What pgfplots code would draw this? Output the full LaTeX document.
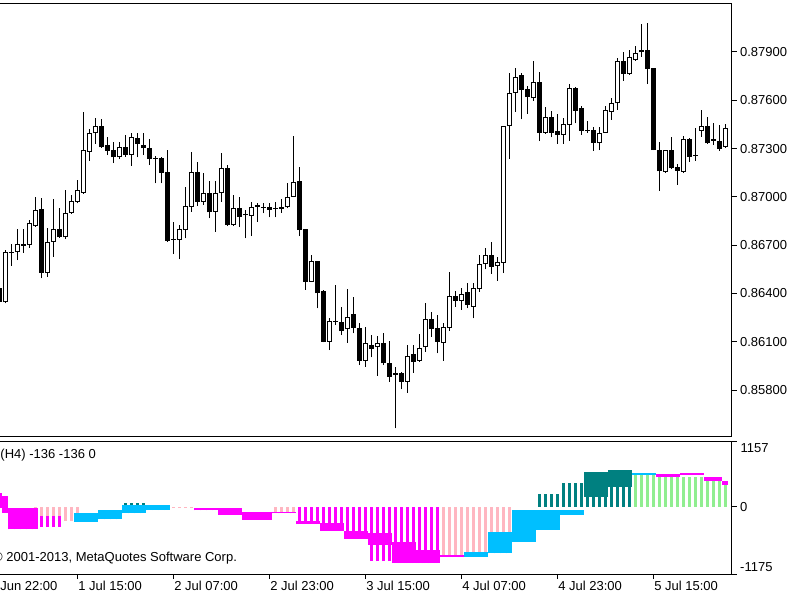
\documentclass[border=0pt]{standalone}
\usepackage{pgfplots}
\pgfplotsset{compat=1.18}
\usepackage{pgfplotstable}
\usepackage{fontspec}
\setmainfont{Liberation Sans}
\definecolor{mtpink}{RGB}{255,182,193}
\definecolor{mtmag}{RGB}{255,0,255}
\definecolor{mtblue}{RGB}{0,191,255}
\definecolor{mtteal}{RGB}{0,128,128}
\definecolor{mtgreen}{RGB}{144,238,144}
\pgfplotsset{
  seg/.style 2 args={forget plot, draw=none, mark=none, no markers,
    error bars/.cd, y dir=plus, y explicit, error mark=none,
    error bar style={line width=#1, draw=#2, solid, line cap=butt}},
}
\newcommand{\mtfont}{\fontsize{13bp}{15bp}\selectfont}

\pgfplotstableread{
k open high low close
-13 0.86432 0.86453 0.86279 0.86349
-12 0.86345 0.86670 0.86339 0.86660
-11 0.86653 0.86706 0.86573 0.86660
-10 0.86656 0.86799 0.86608 0.86706
-9 0.86697 0.86799 0.86653 0.86706
-8 0.86701 0.86857 0.86684 0.86836
-7 0.86819 0.87001 0.86815 0.86919
-6 0.86923 0.86995 0.86494 0.86529
-5 0.86526 0.86809 0.86504 0.86722
-4 0.86722 0.86987 0.86629 0.86799
-3 0.86799 0.86929 0.86745 0.86749
-2 0.86749 0.87043 0.86737 0.86898
-1 0.86902 0.87014 0.86894 0.86976
0 0.86970 0.87105 0.86960 0.87043
1 0.87026 0.87529 0.87018 0.87291
2 0.87281 0.87420 0.87223 0.87399
3 0.87395 0.87488 0.87329 0.87440
4 0.87442 0.87482 0.87305 0.87308
5 0.87322 0.87374 0.87260 0.87287
6 0.87291 0.87339 0.87209 0.87246
7 0.87246 0.87339 0.87234 0.87312
8 0.87312 0.87385 0.87250 0.87260
9 0.87260 0.87395 0.87194 0.87370
10 0.87364 0.87395 0.87246 0.87327
11 0.87322 0.87399 0.87260 0.87302
12 0.87306 0.87358 0.87198 0.87234
13 0.87242 0.87254 0.87084 0.87237
14 0.87243 0.87250 0.87084 0.87150
15 0.87157 0.87291 0.86722 0.86728
16 0.86740 0.86846 0.86645 0.86734
17 0.86732 0.86825 0.86612 0.86799
18 0.86794 0.87060 0.86743 0.86943
19 0.86939 0.87277 0.86908 0.87155
20 0.87155 0.87219 0.86943 0.86970
21 0.86970 0.87147 0.86950 0.87022
22 0.87022 0.87099 0.86867 0.86904
23 0.86908 0.87099 0.86784 0.87022
24 0.87022 0.87271 0.86970 0.87181
25 0.87181 0.87198 0.86819 0.86825
26 0.86825 0.87012 0.86819 0.86929
27 0.86929 0.87001 0.86815 0.86877
28 0.86891 0.86919 0.86743 0.86885
29 0.86881 0.86970 0.86757 0.86935
30 0.86947 0.86964 0.86846 0.86940
31 0.86939 0.86964 0.86898 0.86932
32 0.86939 0.86964 0.86873 0.86919
33 0.86932 0.86970 0.86873 0.86926
34 0.86927 0.86985 0.86902 0.86935
35 0.86935 0.87084 0.86929 0.87001
36 0.87001 0.87378 0.86998 0.87094
37 0.87099 0.87184 0.86757 0.86794
38 0.86799 0.86802 0.86422 0.86473
39 0.86473 0.86639 0.86470 0.86602
40 0.86602 0.86605 0.86308 0.86401
41 0.86417 0.86422 0.86097 0.86101
42 0.86101 0.86250 0.86049 0.86229
43 0.86228 0.86453 0.86204 0.86222
44 0.86225 0.86314 0.86142 0.86167
45 0.86178 0.86426 0.86094 0.86256
46 0.86271 0.86380 0.86153 0.86188
47 0.86184 0.86217 0.85956 0.85981
48 0.85981 0.86194 0.85945 0.86091
49 0.86080 0.86142 0.86003 0.86055
50 0.86068 0.86135 0.85888 0.86091
51 0.86091 0.86153 0.85956 0.85966
52 0.85966 0.86107 0.85852 0.85883
53 0.85903 0.85942 0.85563 0.85897
54 0.85904 0.85914 0.85805 0.85852
55 0.85852 0.86080 0.85784 0.86012
56 0.86024 0.86080 0.85908 0.85976
57 0.85983 0.86149 0.85976 0.86060
58 0.86066 0.86343 0.86039 0.86240
59 0.86240 0.86287 0.86132 0.86178
60 0.86184 0.86266 0.86029 0.86101
61 0.86094 0.86219 0.85983 0.86190
62 0.86184 0.86536 0.86169 0.86385
63 0.86386 0.86416 0.86318 0.86355
64 0.86355 0.86432 0.86298 0.86397
65 0.86408 0.86463 0.86308 0.86329
66 0.86318 0.86463 0.86246 0.86432
67 0.86426 0.86639 0.86411 0.86583
68 0.86583 0.86681 0.86550 0.86639
69 0.86639 0.86723 0.86523 0.86565
70 0.86573 0.86629 0.86478 0.86593
71 0.86591 0.87440 0.86526 0.87440
72 0.87440 0.87771 0.87234 0.87647
73 0.87647 0.87799 0.87529 0.87743
74 0.87757 0.87768 0.87482 0.87664
75 0.87668 0.87689 0.87515 0.87619
76 0.87612 0.87846 0.87598 0.87716
77 0.87716 0.87778 0.87347 0.87399
78 0.87399 0.87557 0.87391 0.87498
79 0.87498 0.87535 0.87370 0.87399
80 0.87411 0.87515 0.87329 0.87385
81 0.87385 0.87488 0.87329 0.87453
82 0.87447 0.87699 0.87349 0.87675
83 0.87678 0.87681 0.87457 0.87535
84 0.87550 0.87565 0.87385 0.87411
85 0.87414 0.87473 0.87399 0.87408
86 0.87416 0.87436 0.87287 0.87337
87 0.87333 0.87436 0.87291 0.87399
88 0.87399 0.87565 0.87396 0.87537
89 0.87529 0.87612 0.87478 0.87581
90 0.87581 0.87863 0.87540 0.87841
91 0.87841 0.87902 0.87720 0.87763
92 0.87763 0.87912 0.87757 0.87866
93 0.87850 0.87937 0.87846 0.87892
94 0.87912 0.88074 0.87871 0.87898
95 0.87912 0.88078 0.87701 0.87794
96 0.87799 0.87799 0.87291 0.87291
97 0.87291 0.87343 0.87037 0.87159
98 0.87157 0.87291 0.87147 0.87291
99 0.87291 0.87369 0.87173 0.87178
100 0.87188 0.87203 0.87074 0.87161
101 0.87157 0.87378 0.87147 0.87358
102 0.87358 0.87364 0.87217 0.87250
103 0.87259 0.87426 0.87223 0.87253
104 0.87412 0.87540 0.87374 0.87440
105 0.87440 0.87494 0.87329 0.87333
106 0.87362 0.87462 0.87322 0.87350
107 0.87349 0.87447 0.87287 0.87296
108 0.87312 0.87453 0.87305 0.87426
}\candles

\pgfplotstableread{
k lo hi
-7 -150 0
-6 -150 0
-5 -150 0
-4 -150 0
-3 -240 0
-2 -240 0
-1 -240 0
0 -240 0
13 -20 0
14 -20 0
15 -20 0
16 -20 0
17 -20 0
18 -20 0
19 -20 0
33 -100 0
34 -100 0
35 -100 0
36 -100 0
61 -859 0
62 -859 0
63 -859 0
64 -859 0
65 -800 0
66 -800 0
67 -800 0
68 -800 0
69 -450 0
70 -450 0
71 -450 0
72 -450 0
}\stripP

\pgfplotstableread{
k lo hi
-6 -351 -158
-5 -351 -158
-4 -351 -158
-3 -351 -158
37 -300 0
38 -300 0
39 -300 0
40 -300 0
41 -420 0
42 -420 0
43 -420 0
44 -420 0
45 -560 0
46 -560 0
47 -560 0
48 -560 0
49 -950 0
50 -950 0
51 -950 0
52 -950 0
53 -982 0
54 -982 0
55 -982 0
56 -982 0
57 -982 0
58 -982 0
59 -982 0
60 -982 0
}\stripM

\pgfplotstableread{
k lo hi
8 0 70
9 0 70
10 0 70
11 0 70
77 0 228
78 0 228
79 0 228
80 0 228
81 0 421
82 0 421
83 0 421
84 0 421
85 0 619
86 0 619
87 0 619
88 0 619
89 0 649
90 0 649
91 0 649
92 0 649
}\stripT

\pgfplotstableread{
k lo hi
93 0 560
94 0 560
95 0 560
96 0 560
97 0 530
98 0 530
99 0 530
100 0 530
101 0 530
102 0 530
103 0 530
104 0 530
105 0 530
106 0 530
107 0 500
108 0 450
}\stripG

\pgfplotstableread{
k lo hi
-13 -20 245
-12 -100 200
-11 -391 -23
-10 -391 -23
-9 -391 -23
-8 -391 -23
-7 -391 -23
20 -60 -10
21 -60 -10
22 -60 -15
23 -60 -15
24 -140 -23
25 -140 -23
26 -140 -23
27 -140 -23
28 -228 -82
29 -228 -82
30 -228 -82
31 -228 -82
32 -228 -82
33 -110 -90
34 -110 -90
35 -110 -90
36 -110 -90
37 -300 -240
38 -300 -240
39 -300 -240
40 -300 -240
41 -420 -280
42 -420 -280
43 -420 -280
44 -420 -280
45 -560 -420
46 -560 -420
47 -560 -420
48 -560 -420
49 -666 -456
50 -666 -456
51 -666 -456
52 -666 -456
53 -982 -614
54 -982 -614
55 -982 -614
56 -982 -614
57 -982 -754
58 -982 -754
59 -982 -754
60 -982 -754
61 -880 -840
62 -880 -840
63 -880 -840
64 -880 -840
97 530 580
98 530 580
99 530 580
100 530 580
101 560 600
102 560 600
103 560 600
104 560 600
105 460 520
106 460 520
107 460 520
108 390 460
}\bandM

\pgfplotstableread{
k lo hi
0 -257 -111
1 -257 -111
2 -257 -111
3 -257 -111
4 -216 -53
5 -216 -53
6 -216 -53
7 -216 -53
8 -111 35
9 -111 35
10 -111 35
11 -111 35
12 -53 35
13 -53 35
14 -53 35
15 -53 35
65 -871 -783
66 -871 -783
67 -871 -783
68 -871 -783
69 -812 -433
70 -812 -433
71 -812 -433
72 -812 -433
73 -608 -53
74 -608 -53
75 -608 -53
76 -608 -53
77 -403 -53
78 -403 -53
79 -403 -53
80 -403 -53
81 -140 -53
82 -140 -53
83 -140 -53
84 -140 -53
93 560 600
94 560 600
95 560 600
96 560 600
}\bandB

\pgfplotstableread{
k lo hi
85 180 619
86 180 619
87 180 619
88 180 619
89 356 649
90 356 649
91 356 649
92 356 649
}\bandT

\begin{document}
\begin{tikzpicture}
% ---------- price window ----------
\begin{axis}[name=main,
  at={(0bp,-436.5bp)}, anchor=south west,
  scale only axis, width=731.5bp, height=433bp,
  xmin=-12.883, xmax=109.033, ymin=0.85512, ymax=0.88201,
  axis line style={draw=none},
  xtick=\empty,
  ytick={0.858,0.861,0.864,0.867,0.870,0.873,0.876,0.879},
  ytick pos=right, yticklabel pos=right,
  scaled y ticks=false,
  tick align=outside, major tick length=5bp,
  tick style={black, line width=1bp},
  yticklabel style={font=\mtfont, anchor=west,
    /pgf/number format/.cd, fixed, fixed zerofill, precision=5, assume math mode=true},
]
\addplot[seg={1.2bp}{black}] table[x=k, y=low, y error expr=\thisrow{high}-\thisrow{low}] \candles;
\addplot[seg={5bp}{black}] table[x=k, y expr={min(\thisrow{open},\thisrow{close})},
  y error expr={max(abs(\thisrow{close}-\thisrow{open}),0.00007)}] \candles;
\addplot[seg={3bp}{white}] table[x=k, y expr={\thisrow{open}+0.0000621},
  y error expr={max(\thisrow{close}-\thisrow{open}-0.000124,0)}] \candles;
\end{axis}

% ---------- indicator window ----------
\begin{axis}[name=ind,
  at={(0bp,-574bp)}, anchor=south west,
  scale only axis, width=731.5bp, height=133bp,
  xmin=-12.883, xmax=109.033, ymin=-1175, ymax=1157,
  axis line style={draw=none},
  xtick={0,16,32,48,64,80,96},
  xticklabels={1 Jul 15:00, 2 Jul 07:00, 2 Jul 23:00, 3 Jul 15:00, 4 Jul 07:00, 4 Jul 23:00, 5 Jul 15:00},
  xtick pos=bottom, ytick pos=right, yticklabel pos=right,
  ytick={-1175,0,1157}, yticklabels={{},0,{}},
  tick align=outside, major tick length=5bp,
  tick style={black, line width=1bp},
  xticklabel style={font=\mtfont, anchor=north west, inner sep=0pt, xshift=0.8bp, yshift=-2bp},
  yticklabel style={font=\mtfont, anchor=west},
]
\addplot[seg={2.5bp}{mtpink}] table[x=k, y=lo, y error expr=\thisrow{hi}-\thisrow{lo}] \stripP;
\addplot[seg={2.5bp}{mtmag}] table[x=k, y=lo, y error expr=\thisrow{hi}-\thisrow{lo}] \stripM;
\addplot[seg={2.5bp}{mtteal}] table[x=k, y=lo, y error expr=\thisrow{hi}-\thisrow{lo}] \stripT;
\addplot[seg={2.5bp}{mtgreen}] table[x=k, y=lo, y error expr=\thisrow{hi}-\thisrow{lo}] \stripG;
\addplot[seg={6.1bp}{mtmag}] table[x=k, y=lo, y error expr=\thisrow{hi}-\thisrow{lo}] \bandM;
\addplot[seg={6.1bp}{mtblue}] table[x=k, y=lo, y error expr=\thisrow{hi}-\thisrow{lo}] \bandB;
\addplot[seg={6.1bp}{mtteal}] table[x=k, y=lo, y error expr=\thisrow{hi}-\thisrow{lo}] \bandT;
\end{axis}

\draw[black, line width=1.2bp] (main.south west) -- (main.south east) -- (main.north east) -- (main.north west);
\draw[black, line width=1bp] (ind.south west) -- (ind.south east) -- (ind.north east) -- (ind.north west);
\draw[black, line width=1bp] (-18.7bp,-574bp) -- (-18.7bp,-579bp);
\node[font=\mtfont, anchor=north west, inner sep=0pt] at (-17.9bp,-581bp) {30 Jun 22:00};
\node[font=\mtfont, anchor=north west, inner sep=0pt] at ([xshift=9bp,yshift=-2.3bp]ind.north east) {1157};
\node[font=\mtfont, anchor=south west, inner sep=0pt] at ([xshift=8.5bp,yshift=2.3bp]ind.south east) {-1175};
\node[font=\mtfont, anchor=base west, inner sep=0pt] at (0.3bp,-458bp) {(H4) -136 -136 0};
\node[font=\mtfont, anchor=base west, inner sep=0pt] at (-7bp,-561bp) {© 2001-2013, MetaQuotes Software Corp.};

\pgfresetboundingbox
\path[use as bounding box] (0bp,0bp) rectangle (800bp,-600bp);
\end{tikzpicture}
\end{document}
